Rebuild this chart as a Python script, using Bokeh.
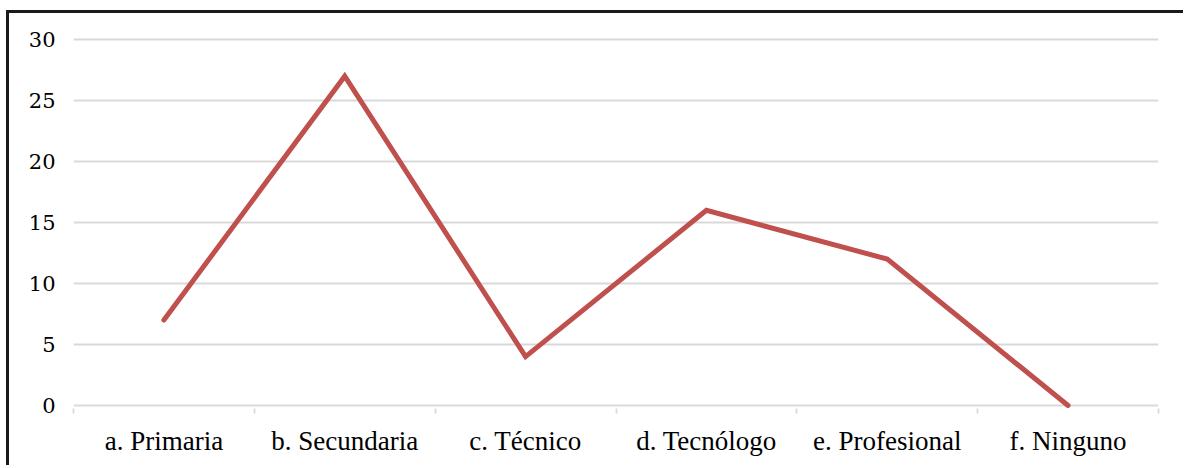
from bokeh.plotting import figure
from bokeh.models import Range1d, FixedTicker
from bokeh.embed import file_html
from bokeh.resources import INLINE

categories = ["a. Primaria", "b. Secundaria", "c. Técnico", "d. Tecnólogo", "e. Profesional", "f. Ninguno"]
values = [7, 27, 4, 16, 12, 0]
y_ticks = [0, 5, 10, 15, 20, 25, 30]

n = len(categories)
xs = [i + 0.5 for i in range(n)]

p = figure(
    frame_width=1085, frame_height=372,
    x_range=Range1d(0, n), y_range=Range1d(-0.25, 30.25),
    output_backend="svg", toolbar_location=None,
    min_border_left=64, min_border_top=23, min_border_right=25, min_border_bottom=57,
    styles={"border-left": "3px solid #1a1a1a", "border-top": "3px solid #1a1a1a",
            "margin-left": "6px", "margin-top": "10px"},
)
p.outline_line_color = None
p.background_fill_color = "white"
p.border_fill_color = "white"

# grid
p.xgrid.visible = False
p.ygrid.ticker = FixedTicker(ticks=y_ticks)
p.ygrid.grid_line_color = "#d9d9d9"
p.ygrid.grid_line_width = 1.8

# y axis
p.yaxis.ticker = FixedTicker(ticks=y_ticks)
p.yaxis.axis_line_color = None
p.yaxis.major_tick_line_color = None
p.yaxis.minor_tick_line_color = None
p.yaxis.major_tick_out = 0
p.yaxis.major_tick_in = 0
p.yaxis.major_label_text_font = "DejaVu Serif"
p.yaxis.major_label_text_font_size = "21px"
p.yaxis.major_label_text_color = "#000000"
p.yaxis.major_label_standoff = 18

# x axis: labels at centers, tick marks at boundaries
p.xaxis.ticker = FixedTicker(ticks=xs, minor_ticks=list(range(n + 1)))
p.xaxis.major_label_overrides = {x: c for x, c in zip(xs, categories)}
p.xaxis.axis_line_color = None
p.xaxis.major_tick_line_color = None
p.xaxis.major_tick_out = 0
p.xaxis.major_tick_in = 0
p.xaxis.minor_tick_line_color = "#d9d9d9"
p.xaxis.minor_tick_line_width = 1.8
p.xaxis.minor_tick_out = 5
p.xaxis.minor_tick_in = 0
p.xaxis.major_label_text_font = "Liberation Serif"
p.xaxis.major_label_text_font_size = "27px"
p.xaxis.major_label_text_color = "#000000"
p.xaxis.major_label_standoff = 12

p.line(xs, values, line_color="#c0504d", line_width=5, line_cap="round", line_join="miter")

open("out.html", "w").write(file_html(p, INLINE))
